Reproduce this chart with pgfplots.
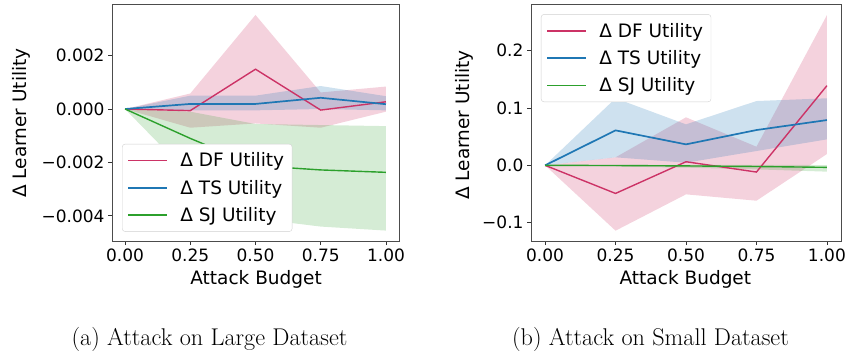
\documentclass[border=0pt]{standalone}
\usepackage{fontspec}
\usepackage{pgfplots}
\usepackage{pgfplotstable}
\pgfplotsset{compat=1.18}
\usepgfplotslibrary{fillbetween}
\newfontfamily\djv{DejaVu Sans}
\definecolor{cDF}{RGB}{204,51,102}
\definecolor{cTS}{RGB}{31,119,180}
\definecolor{cSJ}{RGB}{44,160,44}

% Large dataset
\pgfplotstableread{
x m lo hi
0 0 0 0
0.25 -0.00006 -0.0007 0.00058
0.5 0.00149 -0.00054 0.00352
0.75 -0.00004 -0.0007 0.00062
1.0 0.00027 -0.0001 0.00084
}\dfL
\pgfplotstableread{
x m lo hi
0 0 0 0
0.25 0.00019 -0.00005 0.0005
0.5 0.00019 -0.00005 0.0005
0.75 0.00042 0.0 0.00086
1.0 0.00018 -0.00005 0.00048
}\tsL
\pgfplotstableread{
x m lo hi
0 0 0 0
0.25 -0.0011 -0.0025 -0.0001
0.5 -0.00212 -0.0041 -0.00056
0.75 -0.00228 -0.0044 -0.0006
1.0 -0.00237 -0.00455 -0.00064
}\sjL
% Small dataset
\pgfplotstableread{
x m lo hi
0 0 0 0
0.25 -0.049 -0.114 0.014
0.5 0.0063 -0.0506 0.0838
0.75 -0.0117 -0.0617 0.0325
1.0 0.139 0.0197 0.262
}\dfS
\pgfplotstableread{
x m lo hi
0 0 0 0
0.25 0.061 0.014 0.117
0.5 0.0366 0.0046 0.0715
0.75 0.0616 0.025 0.1122
1.0 0.079 0.0453 0.117
}\tsS
\pgfplotstableread{
x m lo hi
0 0 0 0
0.25 -0.0003 -0.002 0.0005
0.5 -0.001 -0.004 0.001
0.75 -0.002 -0.007 0.001
1.0 -0.0035 -0.011 0.0005
}\sjS

\pgfplotsset{
  myax/.style={
    scale only axis, height=237pt,
    xmin=-0.05, xmax=1.05,
    xtick={0,0.25,0.5,0.75,1}, xticklabels={0.00,0.25,0.50,0.75,1.00},
    tick align=outside, xtick pos=bottom, ytick pos=left,
    major tick length=4pt,
    tick style={black!80, line width=0.8pt},
    axis line style={black!70, line width=0.8pt},
    ticklabel style={font=\djv\fontsize{17}{20}\selectfont},
    label style={font=\djv\fontsize{18.5}{22}\selectfont},
    xlabel={Attack Budget}, ylabel={Δ Learner Utility},
    scaled y ticks=false, scaled x ticks=false,
    legend cell align=left,
    legend image code/.code={\draw[##1] (0pt,0pt) -- (39pt,0pt);},
    legend style={draw=black!18, fill=white,
      rounded corners=3pt, font=\djv\fontsize{18.5}{22}\selectfont,
      inner xsep=5pt, inner ysep=3pt, row sep=0pt,
      nodes={inner ysep=5.8pt, inner xsep=3pt},
      /tikz/every odd column/.append style={column sep=9pt}},
    every axis plot/.append style={no markers},
  },
  band/.style={draw=none, forget plot},
}

\begin{document}
\begin{tikzpicture}[x=1pt,y=1pt]

\begin{axis}[myax, at={(112pt,-4pt)}, anchor=north west, width=287pt,
  ymin=-0.00494, ymax=0.00393,
  ytick={-0.004,-0.002,0,0.002}, yticklabels={−0.004,−0.002,0.000,0.002},
  xlabel style={at={(rel axis cs:0.502,-0.162)}, anchor=center},
  ylabel style={at={(rel axis cs:-0.317,0.498)}, anchor=center},
  legend style={at={(rel axis cs:0.035,0.039)}, anchor=south west}]
  \addlegendimage{draw=cDF, line width=1.5pt}\addlegendentry{Δ DF Utility}
  \addlegendimage{draw=cTS, line width=2.2pt}\addlegendentry{Δ TS Utility}
  \addlegendimage{draw=cSJ, line width=1.5pt}\addlegendentry{Δ SJ Utility}
  \addplot[band, name path=dfa] table[x=x,y=hi]{\dfL};
  \addplot[band, name path=dfb] table[x=x,y=lo]{\dfL};
  \addplot[fill=cDF, fill opacity=0.22, draw=none, forget plot] fill between[of=dfa and dfb];
  \addplot[band, name path=tsa] table[x=x,y=hi]{\tsL};
  \addplot[band, name path=tsb] table[x=x,y=lo]{\tsL};
  \addplot[fill=cTS, fill opacity=0.22, draw=none, forget plot] fill between[of=tsa and tsb];
  \addplot[band, name path=sja] table[x=x,y=hi]{\sjL};
  \addplot[band, name path=sjb] table[x=x,y=lo]{\sjL};
  \addplot[fill=cSJ, fill opacity=0.2, draw=none, forget plot] fill between[of=sja and sjb];
  \addplot[draw=cDF, line width=1.4pt, forget plot] table[x=x,y=m]{\dfL};
  \addplot[draw=cTS, line width=1.7pt, forget plot] table[x=x,y=m]{\tsL};
  \addplot[draw=cSJ, line width=1.4pt, forget plot] table[x=x,y=m]{\sjL};
\end{axis}

\begin{axis}[myax, at={(531pt,-4pt)}, anchor=north west, width=310pt,
  ymin=-0.132, ymax=0.2815,
  ytick={-0.1,0,0.1,0.2}, yticklabels={−0.1,0.0,0.1,0.2},
  xlabel style={at={(rel axis cs:0.498,-0.162)}, anchor=center},
  ylabel style={at={(rel axis cs:-0.216,0.49)}, anchor=center},
  legend style={at={(rel axis cs:0.032,0.957)}, anchor=north west}]
  \addlegendimage{draw=cDF, line width=1.5pt}\addlegendentry{Δ DF Utility}
  \addlegendimage{draw=cTS, line width=2.2pt}\addlegendentry{Δ TS Utility}
  \addlegendimage{draw=cSJ, line width=1.5pt}\addlegendentry{Δ SJ Utility}
  \addplot[band, name path=dfa] table[x=x,y=hi]{\dfS};
  \addplot[band, name path=dfb] table[x=x,y=lo]{\dfS};
  \addplot[fill=cDF, fill opacity=0.22, draw=none, forget plot] fill between[of=dfa and dfb];
  \addplot[band, name path=tsa] table[x=x,y=hi]{\tsS};
  \addplot[band, name path=tsb] table[x=x,y=lo]{\tsS};
  \addplot[fill=cTS, fill opacity=0.22, draw=none, forget plot] fill between[of=tsa and tsb];
  \addplot[band, name path=sja] table[x=x,y=hi]{\sjS};
  \addplot[band, name path=sjb] table[x=x,y=lo]{\sjS};
  \addplot[fill=cSJ, fill opacity=0.2, draw=none, forget plot] fill between[of=sja and sjb];
  \addplot[draw=cDF, line width=1.4pt, forget plot] table[x=x,y=m]{\dfS};
  \addplot[draw=cTS, line width=1.7pt, forget plot] table[x=x,y=m]{\tsS};
  \addplot[draw=cSJ, line width=1.4pt, forget plot] table[x=x,y=m]{\sjS};
\end{axis}

\node[anchor=base, inner sep=0pt, font=\fontsize{24.2}{29}\selectfont] at (209.5,-345.5) {(a) Attack on Large Dataset};
\node[anchor=base, inner sep=0pt, font=\fontsize{24.2}{29}\selectfont] at (650.5,-345.5) {(b) Attack on Small Dataset};
\pgfresetboundingbox
\path (0,0) rectangle (846,-356);
\end{tikzpicture}
\end{document}
